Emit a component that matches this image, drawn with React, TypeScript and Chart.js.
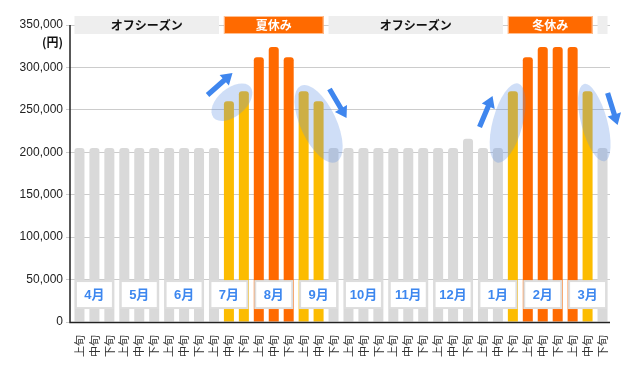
import React, { useEffect, useRef } from 'react';
import { Chart, registerables } from 'chart.js';

Chart.register(...registerables);

// ---- data ----
const periods = ['上旬', '中旬', '下旬'];
const months = ['4月', '5月', '6月', '7月', '8月', '9月', '10月', '11月', '12月', '1月', '2月', '3月'];
const categories = months.flatMap(() => periods);

const prices = [
  205000, 205000, 205000, // 4月
  205000, 205000, 205000, // 5月
  205000, 205000, 205000, // 6月
  205000, 260000, 272000, // 7月
  312000, 324000, 312000, // 8月
  272000, 260000, 205000, // 9月
  205000, 205000, 205000, // 10月
  205000, 205000, 205000, // 11月
  205000, 205000, 216000, // 12月
  205000, 205000, 272000, // 1月
  312000, 324000, 324000, // 2月
  324000, 272000, 205000, // 3月
];

// 0 = off, 1 = high, 2 = peak
const tiers = [
  0, 0, 0, 0, 0, 0, 0, 0, 0,
  0, 1, 1,
  2, 2, 2,
  1, 1, 0,
  0, 0, 0, 0, 0, 0, 0, 0, 0,
  0, 0, 1,
  2, 2, 2,
  2, 1, 0,
];

const seasonLabels = ['オフシーズン', '夏休み', 'オフシーズン', '冬休み', ''];
const seasonFrom = [0, 10, 17, 29, 35];
const seasonTo = [9, 16, 28, 34, 35];
const seasonPeak = [false, true, false, true, false];

const yTicksMax = 350000;
const yStep = 50000;
const yUnit = '(円)';

// decorations (data coordinates: category index, value)
const ellipses = [
  { idx: 10.2, val: 259000, a: 24, b: 14, rot: -40 },
  { idx: 16.0, val: 233500, a: 42, b: 18, rot: 65 },
  { idx: 28.65, val: 234500, a: 41, b: 15, rot: -75 },
  { idx: 34.45, val: 235000, a: 40, b: 13, rot: 75 },
];
const arrows = [
  { x1: 8.57, y1: 267500, x2: 10.24, y2: 293400 },
  { x1: 16.73, y1: 274600, x2: 17.87, y2: 240400 },
  { x1: 26.77, y1: 229800, x2: 27.64, y2: 266300 },
  { x1: 35.34, y1: 269900, x2: 36.01, y2: 232200 },
];

// ---- styles ----
const GRAY = '#d9d9d9';
const YELLOW = '#fcbc00';
const ORANGE = '#ff6a00';
const BAND_GRAY = '#eeeeee';
const BLUE = '#3d87ef';
const LATIN = '"Liberation Sans", Arial, "Noto Sans CJK JP", sans-serif';
const JP = '"Noto Sans CJK JP", "Liberation Sans", sans-serif';

function drawArrow(ctx: CanvasRenderingContext2D, x1: number, y1: number, x2: number, y2: number) {
  const dx = x2 - x1;
  const dy = y2 - y1;
  const len = Math.hypot(dx, dy);
  const ux = dx / len;
  const uy = dy / len;
  const px = -uy;
  const py = ux;
  const shaft = 2.6;
  const headLen = 11;
  const headHalf = 7;
  const bx = x2 - ux * headLen;
  const by = y2 - uy * headLen;
  ctx.beginPath();
  ctx.moveTo(x1 + px * shaft, y1 + py * shaft);
  ctx.lineTo(bx + px * shaft, by + py * shaft);
  ctx.lineTo(bx + px * headHalf, by + py * headHalf);
  ctx.lineTo(x2, y2);
  ctx.lineTo(bx - px * headHalf, by - py * headHalf);
  ctx.lineTo(bx - px * shaft, by - py * shaft);
  ctx.lineTo(x1 - px * shaft, y1 - py * shaft);
  ctx.closePath();
  ctx.fill();
}

const decorPlugin = {
  id: 'decor',
  beforeDatasetsDraw(chart: any) {
    const ctx: CanvasRenderingContext2D = chart.ctx;
    const y = chart.scales.y;
    const bars = chart.getDatasetMeta(0).data;
    const yc = y.getPixelForValue(yTicksMax);
    ctx.save();
    seasonLabels.forEach((label, i) => {
      const b0 = bars[seasonFrom[i]];
      const b1 = bars[seasonTo[i]];
      const x0 = b0.x - b0.width / 2;
      const x1 = b1.x + b1.width / 2;
      ctx.fillStyle = seasonPeak[i] ? ORANGE : BAND_GRAY;
      ctx.fillRect(x0, yc - 9, x1 - x0, 18);
      if (seasonPeak[i]) {
        ctx.strokeStyle = 'rgba(255,200,160,0.9)';
        ctx.lineWidth = 1;
        ctx.strokeRect(x0 + 0.5, yc - 8.5, x1 - x0 - 1, 17);
      }
      if (label) {
        ctx.fillStyle = seasonPeak[i] ? '#ffffff' : '#111111';
        ctx.font = `bold 12px ${JP}`;
        ctx.textAlign = 'center';
        ctx.textBaseline = 'middle';
        ctx.fillText(label, (x0 + x1) / 2, yc + 0.5);
      }
    });
    ctx.restore();
  },
  afterDatasetsDraw(chart: any) {
    const ctx: CanvasRenderingContext2D = chart.ctx;
    const x = chart.scales.x;
    const y = chart.scales.y;
    const area = chart.chartArea;
    const bars = chart.getDatasetMeta(0).data;
    ctx.save();

    // month boxes
    const boxTop = y.getPixelForValue(50000) + 1.5;
    months.forEach((m, i) => {
      const mid = bars[i * 3 + 1].x;
      const w = 37;
      const h = 27;
      ctx.fillStyle = '#ffffff';
      ctx.fillRect(mid - w / 2, boxTop, w, h);
      ctx.strokeStyle = '#dddddd';
      ctx.lineWidth = 2;
      ctx.strokeRect(mid - w / 2, boxTop, w, h);
      ctx.fillStyle = BLUE;
      ctx.font = `bold 13px ${LATIN}`;
      ctx.textAlign = 'center';
      ctx.textBaseline = 'middle';
      ctx.fillText(m, mid, boxTop + h / 2 + 0.5);
    });

    // highlight ellipses
    ctx.fillStyle = 'rgba(95,145,230,0.3)';
    ellipses.forEach((e) => {
      ctx.beginPath();
      ctx.ellipse(x.getPixelForValue(e.idx), y.getPixelForValue(e.val), e.a, e.b, (e.rot * Math.PI) / 180, 0, Math.PI * 2);
      ctx.fill();
    });

    // arrows
    ctx.fillStyle = '#3f86ee';
    arrows.forEach((a) => {
      drawArrow(ctx, x.getPixelForValue(a.x1), y.getPixelForValue(a.y1), x.getPixelForValue(a.x2), y.getPixelForValue(a.y2));
    });

    // axis lines
    const axisX = area.left - 2;
    ctx.strokeStyle = '#222222';
    ctx.lineWidth = 1.5;
    ctx.beginPath();
    ctx.moveTo(axisX, y.getPixelForValue(yTicksMax));
    ctx.lineTo(axisX, area.bottom + 0.5);
    ctx.lineTo(area.right, area.bottom + 0.5);
    ctx.stroke();

    // unit label
    ctx.fillStyle = '#111111';
    ctx.font = `bold 12px ${JP}`;
    ctx.textAlign = 'right';
    ctx.textBaseline = 'middle';
    ctx.fillText(yUnit, 63, y.getPixelForValue(yTicksMax) + 17);

    ctx.restore();
  },
};

export default function App() {
  const ref = useRef<HTMLCanvasElement | null>(null);

  useEffect(() => {
    document.body.style.margin = '0';
    const canvas = ref.current;
    if (!canvas) return;
    const chart = new Chart(canvas, {
      type: 'bar',
      data: {
        labels: categories,
        datasets: [
          {
            data: prices,
            backgroundColor: tiers.map((t) => (t === 2 ? ORANGE : t === 1 ? YELLOW : GRAY)),
            borderRadius: { topLeft: 3, topRight: 3, bottomLeft: 0, bottomRight: 0 },
            borderSkipped: 'bottom',
            barPercentage: 0.67,
            categoryPercentage: 1,
          },
        ],
      },
      options: {
        responsive: false,
        animation: false,
        devicePixelRatio: 1,
        layout: { padding: { top: 25, right: 22, left: 0, bottom: 0 } },
        plugins: {
          legend: { display: false },
          tooltip: { enabled: false },
          title: { display: false },
        },
        scales: {
          x: {
            grid: { display: false },
            border: { display: false },
            ticks: {
              autoSkip: false,
              minRotation: 90,
              maxRotation: 90,
              padding: 5,
              color: '#333333',
              font: { size: 11, family: JP },
            },
            afterFit: (s: any) => {
              s.height = 49;
            },
          },
          y: {
            min: 0,
            max: yTicksMax,
            grid: { color: '#cccccc', tickLength: 6, lineWidth: 1 },
            border: { display: false },
            ticks: {
              stepSize: yStep,
              padding: 3,
              color: '#222222',
              font: { size: 12, family: LATIN },
              callback: (v: any) => Number(v).toLocaleString('en-US'),
            },
            afterFit: (s: any) => {
              s.width = 72;
            },
          },
        },
      },
      plugins: [decorPlugin],
    });
    return () => chart.destroy();
  }, []);

  return (
    <div style={{ width: 632, height: 371 }}>
      <canvas ref={ref} width={632} height={371} style={{ display: 'block' }} />
    </div>
  );
}
